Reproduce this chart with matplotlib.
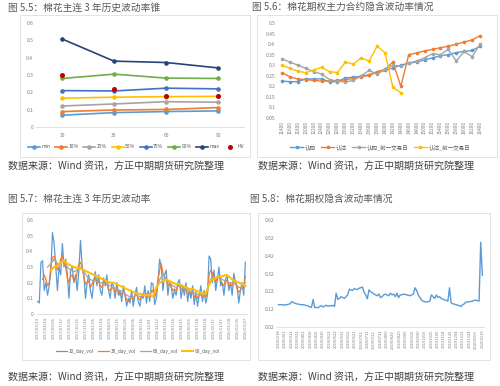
import matplotlib
matplotlib.use('Agg')
import matplotlib.pyplot as plt
from matplotlib.patches import Rectangle
from matplotlib.ticker import FuncFormatter
import numpy as np

plt.rcParams['font.family'] = ['Noto Sans CJK SC', 'DejaVu Sans']

W, H = 500, 386

# ---------------- data ----------------
# 5.5 volatility cone
cone_windows = ['10', '30', '60', '90']
cone_names = ['min', '10%', '25%', '50%', '75%', '90%', 'max']
cone_min = [0.068, 0.083, 0.089, 0.093]
cone_p10 = [0.089, 0.098, 0.101, 0.112]
cone_p25 = [0.121, 0.133, 0.146, 0.143]
cone_p50 = [0.166, 0.172, 0.175, 0.177]
cone_p75 = [0.210, 0.208, 0.224, 0.220]
cone_p90 = [0.280, 0.305, 0.282, 0.280]
cone_max = [0.508, 0.380, 0.372, 0.341]
cone_hv = [0.299, 0.220, 0.180, 0.180]

# 5.6 implied vol by strike
strikes = ['11400', '11600', '11800', '12000', '12200', '12400', '12600', '12800',
           '13000', '13200', '13400', '13600', '13800', '14000', '14200', '14400',
           '14600', '14800', '15000', '15200', '15400', '15600', '15800', '16000',
           '16200', '16400']
call_iv = [0.225, 0.222, 0.222, 0.235, 0.235, 0.235, 0.222, 0.222, 0.240, 0.243,
           0.248, 0.255, 0.265, 0.275, 0.287, 0.300, 0.310, 0.315, 0.325, 0.335,
           0.345, 0.350, 0.360, 0.365, 0.370, 0.390]
put_iv = [0.265, 0.245, 0.235, 0.232, 0.228, 0.225, 0.225, 0.228, 0.230, 0.238,
          0.245, 0.252, 0.270, 0.280, 0.315, 0.200, 0.350, 0.358, 0.368, 0.375,
          0.383, 0.390, 0.400, 0.410, 0.420, 0.440]
call_iv_prev = [0.330, 0.315, 0.300, 0.285, 0.270, 0.258, 0.232, 0.225, 0.220, 0.228,
                0.250, 0.275, 0.258, 0.280, 0.300, 0.295, 0.310, 0.320, 0.335, 0.355,
                0.350, 0.375, 0.320, 0.365, 0.340, 0.400]
put_iv_prev = [0.300, 0.285, 0.272, 0.265, 0.278, 0.290, 0.270, 0.265, 0.315, 0.305,
               0.335, 0.320, 0.390, 0.360, 0.195, 0.170]

# 5.7 historical vol (sampled trading days)
hv10 = [0.08, 0.07, 0.33, 0.34, 0.15, 0.20, 0.12, 0.18, 0.27, 0.52, 0.45, 0.30, 0.15,
        0.30, 0.25, 0.45, 0.30, 0.35, 0.25, 0.10, 0.28, 0.30, 0.20, 0.25, 0.15, 0.28,
        0.47, 0.30, 0.25, 0.10, 0.20, 0.25, 0.15, 0.10, 0.20, 0.27, 0.18, 0.25, 0.15,
        0.12, 0.23, 0.18, 0.25, 0.15, 0.10, 0.20, 0.18, 0.10, 0.20, 0.12, 0.15, 0.08,
        0.18, 0.12, 0.05, 0.10, 0.07, 0.15, 0.05, 0.12, 0.17, 0.08, 0.05, 0.12, 0.10,
        0.18, 0.07, 0.15, 0.08, 0.20, 0.19, 0.06, 0.10, 0.20, 0.35, 0.30, 0.15, 0.25,
        0.28, 0.12, 0.20, 0.18, 0.10, 0.15, 0.12, 0.20, 0.22, 0.10, 0.17, 0.12, 0.20,
        0.08, 0.15, 0.10, 0.18, 0.06, 0.14, 0.05, 0.12, 0.18, 0.08, 0.15, 0.07, 0.12,
        0.37, 0.35, 0.20, 0.28, 0.15, 0.22, 0.30, 0.18, 0.20, 0.12, 0.22, 0.25, 0.15,
        0.20, 0.12, 0.26, 0.20, 0.18, 0.07, 0.15, 0.20, 0.12, 0.33]
hv30 = [0.22, 0.25, 0.22, 0.18, 0.20, 0.30, 0.36, 0.37, 0.34, 0.28, 0.30, 0.35, 0.37,
        0.33, 0.30, 0.23, 0.20, 0.24, 0.25, 0.21, 0.22, 0.27, 0.32, 0.33, 0.30, 0.24,
        0.19, 0.20, 0.21, 0.17, 0.19, 0.22, 0.23, 0.20, 0.21, 0.18, 0.17, 0.20, 0.20,
        0.19, 0.16, 0.15, 0.17, 0.16, 0.14, 0.16, 0.14, 0.12, 0.13, 0.14, 0.12, 0.09,
        0.08, 0.10, 0.11, 0.09, 0.12, 0.13, 0.10, 0.09, 0.11, 0.13, 0.12, 0.11, 0.13,
        0.12, 0.15, 0.15, 0.11, 0.14, 0.22, 0.28, 0.32, 0.26, 0.24, 0.22, 0.18, 0.20,
        0.17, 0.15, 0.16, 0.15, 0.18, 0.19, 0.16, 0.15, 0.16, 0.15, 0.13, 0.14, 0.13,
        0.14, 0.11, 0.12, 0.10, 0.12, 0.13, 0.11, 0.12, 0.11, 0.13, 0.25, 0.28, 0.26,
        0.23, 0.20, 0.24, 0.23, 0.22, 0.19, 0.18, 0.22, 0.21, 0.18, 0.19, 0.18, 0.22,
        0.20, 0.16, 0.14, 0.15, 0.18, 0.17, 0.24]
hv60 = [0.30, 0.32, 0.35, 0.32, 0.33, 0.34, 0.30, 0.28, 0.27, 0.28, 0.30, 0.27, 0.24,
        0.22, 0.21, 0.21, 0.20, 0.20, 0.19, 0.18, 0.17, 0.16, 0.15, 0.14, 0.12, 0.11,
        0.11, 0.12, 0.11, 0.12, 0.13, 0.13, 0.14, 0.16, 0.22, 0.25, 0.22, 0.20, 0.18,
        0.17, 0.18, 0.17, 0.16, 0.15, 0.14, 0.13, 0.12, 0.12, 0.12, 0.20, 0.24, 0.23,
        0.24, 0.22, 0.21, 0.20, 0.20, 0.19, 0.17, 0.17, 0.20]
hv90 = [0.28, 0.30, 0.31, 0.33, 0.34, 0.32, 0.31, 0.30, 0.29, 0.29, 0.28, 0.27, 0.26,
        0.25, 0.24, 0.23, 0.22, 0.21, 0.20, 0.20, 0.19, 0.18, 0.17, 0.16, 0.15, 0.14,
        0.13, 0.13, 0.12, 0.12, 0.12, 0.11, 0.17, 0.20, 0.21, 0.22, 0.21, 0.20, 0.19,
        0.19, 0.18, 0.17, 0.16, 0.16, 0.15, 0.14, 0.13, 0.13, 0.19, 0.22, 0.23, 0.24,
        0.24, 0.25, 0.24, 0.22, 0.21, 0.20, 0.19, 0.18]
hv_dates = ['2017/03/13', '2017/04/24', '2017/06/05', '2017/07/17', '2017/08/25',
            '2017/10/16', '2017/11/24', '2018/01/05', '2018/02/14', '2018/04/03',
            '2018/05/15', '2018/06/26', '2018/08/06', '2018/09/14', '2018/11/01',
            '2018/12/12', '2019/01/24', '2019/03/14', '2019/04/25', '2019/06/06',
            '2019/07/18', '2019/08/28', '2019/10/17', '2019/11/27', '2020/01/08',
            '2020/02/25', '2020/03/27']

# 5.8 implied vol time series
iv_series = [0.145, 0.145, 0.145, 0.143, 0.145, 0.145, 0.148, 0.150, 0.162, 0.157,
             0.153, 0.150, 0.148, 0.146, 0.145, 0.145, 0.143, 0.140, 0.138, 0.133,
             0.130, 0.175, 0.128, 0.130, 0.128, 0.135, 0.140, 0.132, 0.138, 0.142,
             0.136, 0.140, 0.138, 0.142, 0.135, 0.210, 0.175, 0.180, 0.190, 0.185,
             0.180, 0.190, 0.200, 0.232, 0.228, 0.225, 0.235, 0.232, 0.230, 0.238,
             0.240, 0.245, 0.215, 0.200, 0.178, 0.228, 0.218, 0.212, 0.205, 0.200,
             0.195, 0.205, 0.185, 0.190, 0.200, 0.205, 0.200, 0.195, 0.210, 0.200,
             0.205, 0.190, 0.210, 0.185, 0.200, 0.200, 0.205, 0.202, 0.200, 0.198,
             0.195, 0.200, 0.205, 0.240, 0.225, 0.200, 0.185, 0.170, 0.165, 0.162,
             0.160, 0.162, 0.165, 0.200, 0.190, 0.180, 0.200, 0.185, 0.190, 0.180,
             0.175, 0.172, 0.170, 0.165, 0.240, 0.155, 0.150, 0.148, 0.145, 0.142,
             0.140, 0.135, 0.145, 0.150, 0.160, 0.160, 0.162, 0.163, 0.165, 0.170,
             0.170, 0.168, 0.165, 0.495, 0.310]
iv_dates = ['20190218', '20190301', '20190312', '20190321', '20190401', '20190410',
            '20190419', '20190430', '20190513', '20190522', '20190531', '20190612',
            '20190621', '20190702', '20190711', '20190722', '20190731', '20190809',
            '20190820', '20190829', '20190909', '20190919', '20190930', '20191016',
            '20191025', '20191105', '20191114', '20191125', '20191204', '20191213',
            '20191224', '20200106', '20200115']

# ---------------- helpers ----------------
BLUE, ORANGE, GREY, YELLOW = '#5B9BD5', '#ED7D31', '#A5A5A5', '#FFC000'
BLUE2, GREEN, NAVY, RED = '#4472C4', '#70AD47', '#264478', '#C00000'
TICK_C = '#7F7F7F'
fmt = FuncFormatter(lambda v, p: f'{v:g}')


def rect(x0, y0, x1, y1):
    return [x0 / W, 1 - y1 / H, (x1 - x0) / W, (y1 - y0) / H]


def style(ax):
    for s in ['top', 'right', 'left']:
        ax.spines[s].set_visible(False)
    ax.spines['bottom'].set_color('#D9D9D9')
    ax.spines['bottom'].set_linewidth(0.6)
    ax.tick_params(length=0, labelsize=3.6, colors=TICK_C, pad=2)
    ax.yaxis.set_major_formatter(fmt)
    ax.set_facecolor('none')


def frame(fig, x0, y0, x1, y1):
    fig.patches.append(Rectangle((x0 / W, 1 - y1 / H), (x1 - x0) / W, (y1 - y0) / H,
                                 transform=fig.transFigure, fill=False,
                                 edgecolor='#E3E3E3', lw=0.7))


def legend(ax, fig, cx, cy, ncol, fs=3.6):
    ax.legend(loc='center', bbox_to_anchor=(cx / W, 1 - cy / H), bbox_transform=fig.transFigure,
              ncol=ncol, frameon=False, fontsize=fs, handlelength=2.4, handletextpad=0.3,
              columnspacing=0.9, labelcolor='#595959')


fig = plt.figure(figsize=(5.0, 3.86), dpi=100)

frame(fig, 20, 15, 250, 157)
frame(fig, 257, 15, 497, 157)
frame(fig, 22, 213, 250, 360)
frame(fig, 258, 213, 490, 360)

title_kw = dict(fontsize=7.0, color='#595959', va='center', ha='left')
src_kw = dict(fontsize=7.2, color='#404040', va='center', ha='left')
fig.text(8 / W, 1 - 8 / H, '图 5.5：棉花主连 3 年历史波动率锥', **title_kw)
fig.text(252 / W, 1 - 7 / H, '图 5.6：棉花期权主力合约隐含波动率情况', **title_kw)
fig.text(8 / W, 1 - 199 / H, '图 5.7：棉花主连 3 年历史波动率', **title_kw)
fig.text(250 / W, 1 - 199 / H, '图 5.8：棉花期权隐含波动率情况', **title_kw)
src = '数据来源：Wind 资讯，方正中期期货研究院整理'
fig.text(8 / W, 1 - 166 / H, src, **src_kw)
fig.text(258 / W, 1 - 166 / H, src, **src_kw)
fig.text(8 / W, 1 - 377 / H, src, **src_kw)
fig.text(258 / W, 1 - 377 / H, src, **src_kw)

# ---------------- 5.5 ----------------
ax1 = fig.add_axes(rect(36, 23, 244, 127))
style(ax1)
xc = np.arange(len(cone_windows))
cone_series = [cone_min, cone_p10, cone_p25, cone_p50, cone_p75, cone_p90, cone_max]
cone_colors = [BLUE, ORANGE, GREY, YELLOW, BLUE2, GREEN, NAVY]
for vals, name, c in zip(cone_series, cone_names, cone_colors):
    ax1.plot(xc, vals, '-o', color=c, lw=1.2, ms=2.3, label=name)
ax1.plot(xc, cone_hv, 'o', color=RED, ms=2.6, label='HV', linestyle='none')
ax1.set_xlim(-0.5, len(cone_windows) - 0.5)
ax1.set_ylim(0, 0.6)
ax1.set_yticks(np.arange(0, 0.61, 0.1))
ax1.set_xticks(xc)
ax1.set_xticklabels(cone_windows)
ax1.tick_params(axis='x', pad=4)
legend(ax1, fig, 136, 147, 8)

# ---------------- 5.6 ----------------
ax2 = fig.add_axes(rect(278, 23, 484, 118))
style(ax2)
xs = np.arange(len(strikes))
ax2.plot(xs, call_iv, '-o', color=BLUE, lw=1.0, ms=1.6, label='认购')
ax2.plot(xs, put_iv, '-o', color=ORANGE, lw=1.0, ms=1.6, label='认沽')
ax2.plot(xs, call_iv_prev, '-o', color=GREY, lw=1.0, ms=1.6, label='认购_前一交易日')
ax2.plot(xs[:len(put_iv_prev)], put_iv_prev, '-o', color=YELLOW, lw=1.0, ms=1.6,
         label='认沽_前一交易日')
ax2.set_xlim(-0.5, len(strikes) - 0.5)
ax2.set_ylim(0.05, 0.5)
ax2.set_yticks(np.arange(0.05, 0.501, 0.05))
ax2.set_xticks(xs)
ax2.set_xticklabels(strikes, rotation=90, fontsize=3.4)
ax2.spines['bottom'].set_visible(False)
legend(ax2, fig, 380, 147, 4, fs=4.0)

# ---------------- 5.7 ----------------
ax3 = fig.add_axes(rect(36, 220, 247, 314))
style(ax3)
ax3.plot(np.arange(len(hv10)), hv10, color=BLUE, lw=0.9, label='10_day_vol')
ax3.plot(np.arange(3, 3 + len(hv30)), hv30, color=ORANGE, lw=0.9, label='30_day_vol')
ax3.plot(np.arange(6, 6 + 2 * len(hv60), 2), hv60, color=GREY, lw=0.9, label='60_day_vol')
ax3.plot(np.arange(8, 8 + 2 * len(hv90), 2), hv90, color=YELLOW, lw=1.5, label='90_day_vol')
ax3.set_xlim(-1, len(hv10))
ax3.set_ylim(0, 0.6)
ax3.set_yticks(np.arange(0, 0.61, 0.1))
ax3.set_xticks(np.linspace(0, len(hv10) - 1, len(hv_dates)))
ax3.set_xticklabels(hv_dates, rotation=90, fontsize=3.0)
legend(ax3, fig, 138, 351, 4, fs=3.4)

# ---------------- 5.8 ----------------
ax4 = fig.add_axes(rect(277, 220, 484, 327))
style(ax4)
ax4.plot(np.arange(len(iv_series)), iv_series, color=BLUE, lw=1.0)
ax4.set_xlim(-1, len(iv_series))
ax4.set_ylim(0.02, 0.62)
ax4.set_yticks(np.arange(0.02, 0.621, 0.1))
ax4.set_xticks(np.linspace(0, len(iv_series) - 1, len(iv_dates)))
ax4.set_xticklabels(iv_dates, rotation=90, fontsize=3.0)

fig.savefig('out.png', dpi=100)
